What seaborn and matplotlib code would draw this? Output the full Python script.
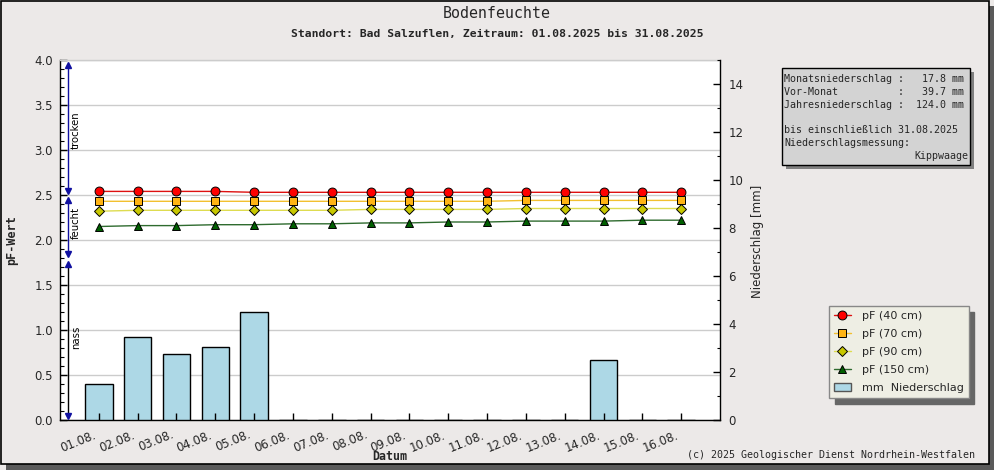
import matplotlib
matplotlib.use("Agg")
import matplotlib.pyplot as plt
import matplotlib.transforms as mtransforms
from matplotlib.patches import Rectangle, Patch
from matplotlib.lines import Line2D
from matplotlib.ticker import MultipleLocator
import numpy as np
import pandas as pd
import seaborn as sns

# ---- data ----
days = ['01.08.', '02.08.', '03.08.', '04.08.', '05.08.', '06.08.', '07.08.', '08.08.',
        '09.08.', '10.08.', '11.08.', '12.08.', '13.08.', '14.08.', '15.08.', '16.08.']
niederschlag = [1.5, 3.45, 2.75, 3.05, 4.5, 0, 0, 0, 0, 0, 0, 0, 0, 2.5, 0, 0]
pf_40 = [2.54, 2.54, 2.54, 2.54, 2.53, 2.53, 2.53, 2.53,
         2.53, 2.53, 2.53, 2.53, 2.53, 2.53, 2.53, 2.53]
pf_70 = [2.43, 2.43, 2.43, 2.43, 2.43, 2.43, 2.43, 2.43,
         2.43, 2.43, 2.43, 2.44, 2.44, 2.44, 2.44, 2.44]
pf_90 = [2.32, 2.33, 2.33, 2.33, 2.33, 2.33, 2.33, 2.34,
         2.34, 2.34, 2.34, 2.35, 2.35, 2.35, 2.35, 2.35]
pf_150 = [2.15, 2.16, 2.16, 2.17, 2.17, 2.18, 2.18, 2.19,
          2.19, 2.20, 2.20, 2.21, 2.21, 2.21, 2.22, 2.22]

# moisture zones on the pF axis: (label, top, bottom, label centre)
zones = [('trocken', 3.94, 2.54, 3.22),
         ('feucht', 2.44, 1.84, 2.19),
         ('nass', 1.73, 0.04, 0.92)]

info_left = ['Monatsniederschlag :   17.8 mm',
             'Vor-Monat          :   39.7 mm',
             'Jahresniederschlag :  124.0 mm',
             '',
             'bis einschließlich 31.08.2025',
             'Niederschlagsmessung:']
info_right = 'Kippwaage'

W, H = 995, 470
BG = '#ECE9E8'
MONO = 'DejaVu Sans Mono'

sns.set_theme(style='white')
plt.rcParams['font.family'] = ['DejaVu Sans']

fig = plt.figure(figsize=(W / 100, H / 100), dpi=100, facecolor=BG)

# frame with drop shadow
fig.patches.append(Rectangle((6 / W, 0), 1, 6 / H, transform=fig.transFigure,
                             facecolor='#5a5a5a', edgecolor='none', zorder=0))
fig.patches.append(Rectangle((1 - 6 / W, 0), 6 / W, 1 - 6 / H, transform=fig.transFigure,
                             facecolor='#5a5a5a', edgecolor='none', zorder=0))
fig.patches.append(Rectangle((0.5 / W, 6 / H), 1 - 6.5 / W, 1 - 6.5 / H, transform=fig.transFigure,
                             facecolor='none', edgecolor='black', lw=1.2, zorder=1))

ax_pf = fig.add_axes([60 / W, 50 / H, 660 / W, 360 / H])
ax_mm = ax_pf.twinx()
ax_ln = ax_pf.twinx()
ax_pf.set_zorder(1)
ax_mm.set_zorder(2)
ax_ln.set_zorder(3)
ax_pf.set_facecolor('white')
ax_mm.patch.set_visible(False)
ax_ln.patch.set_visible(False)

# precipitation bars (right axis)
df_mm = pd.DataFrame({'Datum': days, 'mm': niederschlag})
sns.barplot(data=df_mm, x='Datum', y='mm', ax=ax_mm, color='#ADD8E6', saturation=1,
            edgecolor='black', linewidth=1, width=0.71)

# pF lines
pos = np.arange(len(days))
series = [('pF (40 cm)', pf_40, '#DD1010', '#FF0000', 'o', 6.4),
          ('pF (70 cm)', pf_70, '#F2C030', '#FFB414', 's', 5.2),
          ('pF (90 cm)', pf_90, '#DEDC50', '#C8C800', 'D', 4.6),
          ('pF (150 cm)', pf_150, '#2F6B2F', '#005F00', '^', 6.4)]
handles = []
for label, vals, lc, fc, mk, ms in series:
    sns.lineplot(x=pos, y=vals, ax=ax_ln, color=lc, linewidth=1, marker=mk, markersize=ms,
                 markerfacecolor=fc, markeredgecolor='black', markeredgewidth=0.7,
                 errorbar=None)
    handles.append(Line2D([], [], color=lc, lw=1, marker=mk, markersize=ms,
                          markerfacecolor=fc, markeredgecolor='black', markeredgewidth=0.7,
                          label=label))
handles.append(Patch(facecolor='#ADD8E6', edgecolor='#555555', label='mm  Niederschlag'))

# axes limits / ticks
ax_pf.set_xlim(-1, 16)
ax_pf.set_ylim(0, 4)
ax_ln.set_ylim(0, 4)
ax_mm.set_ylim(0, 15)

ax_pf.yaxis.set_major_locator(MultipleLocator(0.5))
ax_pf.yaxis.set_minor_locator(MultipleLocator(0.1))
ax_pf.yaxis.set_major_formatter(matplotlib.ticker.FormatStrFormatter('%.1f'))
ax_pf.yaxis.grid(True, color='#CCCCCC', lw=1)
ax_pf.xaxis.grid(False)
ax_pf.tick_params(axis='y', which='major', direction='in', length=5, width=1, color='black',
                  labelsize=8.5, pad=5, left=True)
ax_pf.tick_params(axis='y', which='minor', direction='in', length=3, width=0.8, color='black', left=True)

ax_pf.set_xticks(pos)
ax_pf.set_xticklabels(days, rotation=22, ha='right', rotation_mode='anchor', fontsize=8.5)
ax_pf.xaxis.set_tick_params(which='major', bottom=True, length=0, pad=6)
offset = mtransforms.ScaledTranslation(-6 / 100, 0, fig.dpi_scale_trans)
for lab in ax_pf.get_xticklabels():
    lab.set_transform(lab.get_transform() + offset)

# category tick marks drawn on the top layer so they show over the bars
ax_ln.xaxis.set_visible(True)
ax_ln.xaxis.set_tick_params(which='major', bottom=True, top=False, labelbottom=False,
                            direction='in', length=5, width=1, color='black')
ax_ln.xaxis.set_tick_params(which='minor', bottom=False, top=False)

ax_mm.yaxis.set_major_locator(MultipleLocator(2))
ax_mm.yaxis.set_minor_locator(MultipleLocator(1))
ax_mm.tick_params(axis='y', which='major', direction='in', length=5, width=1, color='black',
                  labelsize=8.5, pad=6, right=True)
ax_mm.tick_params(axis='y', which='minor', direction='in', length=2, width=0.8, color='black', right=True)
ax_mm.set_xlabel('')
ax_mm.set_ylabel('')
ax_ln.set_xlabel('')
ax_ln.set_ylabel('')
ax_ln.set_yticks([])

for name, sp in ax_pf.spines.items():
    sp.set_color('black')
    sp.set_linewidth(1)
ax_pf.spines['top'].set_color('#CCCCCC')
ax_pf.spines['right'].set_visible(False)
for name, sp in ax_mm.spines.items():
    sp.set_visible(name == 'right')
ax_mm.spines['right'].set_color('black')
ax_mm.spines['right'].set_linewidth(1)
for sp in ax_ln.spines.values():
    sp.set_visible(False)

# moisture zone arrows
zone_tr = mtransforms.blended_transform_factory(ax_pf.transAxes, ax_pf.transData)
for label, top, bottom, mid in zones:
    lc = 'black' if label == 'nass' else '#1010A0'
    ax_pf.plot([0.0121, 0.0121], [top, bottom], color=lc, lw=1, transform=zone_tr,
               clip_on=False, zorder=4)
    ax_pf.plot([0.0121], [top], marker='^', color='#1010A0', markersize=4.5, transform=zone_tr,
               clip_on=False, zorder=5)
    ax_pf.plot([0.0121], [bottom], marker='v', color='#1010A0', markersize=4.5, transform=zone_tr,
               clip_on=False, zorder=5)
    ax_pf.text(0.0245, mid, label, rotation=90, ha='center', va='center', fontsize=7.3,
               transform=zone_tr, color='black')

# titles and labels
fig.text(497 / W, 1 - 14 / H, 'Bodenfeuchte', family=MONO, fontsize=10.7, ha='center', va='center')
fig.text(497 / W, 1 - 34 / H, 'Standort: Bad Salzuflen, Zeitraum: 01.08.2025 bis 31.08.2025',
         family=MONO, fontweight='bold', fontsize=8.2, ha='center', va='center')
fig.text(12 / W, 1 - 240 / H, 'pF-Wert', family=MONO, fontweight='bold', fontsize=8.5,
         rotation=90, ha='center', va='center')
fig.text(390 / W, 1 - 456 / H, 'Datum', family=MONO, fontweight='bold', fontsize=8.4,
         ha='center', va='center')
fig.text(758 / W, 1 - 241 / H, 'Niederschlag [mm]', fontsize=8.5, rotation=90,
         ha='center', va='center')
fig.text(975 / W, 1 - 455 / H, '(c) 2025 Geologischer Dienst Nordrhein-Westfalen',
         family=MONO, fontsize=7.2, ha='right', va='center')

# info box
bx0, by0, bx1, by1 = 782, 68, 970, 165
fig.patches.append(Rectangle(((bx0 + 4) / W, 1 - (by1 + 4) / H), (bx1 - bx0) / W, (by1 - by0) / H,
                             transform=fig.transFigure, facecolor='#808080', edgecolor='none', zorder=2))
fig.patches.append(Rectangle((bx0 / W, 1 - by1 / H), (bx1 - bx0) / W, (by1 - by0) / H,
                             transform=fig.transFigure, facecolor='#D3D3D3', edgecolor='black',
                             lw=1, zorder=3))
for i, line in enumerate(info_left):
    fig.text(784 / W, 1 - (79 + i * 12.8) / H, line, family=MONO, fontsize=7.2,
             ha='left', va='center', zorder=4)
fig.text(968 / W, 1 - (79 + 6 * 12.8) / H, info_right, family=MONO, fontsize=7.2,
         ha='right', va='center', zorder=4)

# legend
leg = fig.legend(handles=handles, loc='upper left', bbox_to_anchor=(829 / W, 1 - 306 / H),
                 bbox_transform=fig.transFigure, frameon=True, fancybox=False,
                 facecolor='#EEEEE4', edgecolor='#888888', framealpha=1,
                 shadow={'color': '#666666', 'alpha': 1, 'ox': 4, 'oy': -4},
                 fontsize=8, handlelength=1.5, handletextpad=1.0, labelspacing=0.72,
                 borderpad=0.45, borderaxespad=0)
leg.get_frame().set_linewidth(1)

fig.savefig('out.png', dpi=100, facecolor=BG)
